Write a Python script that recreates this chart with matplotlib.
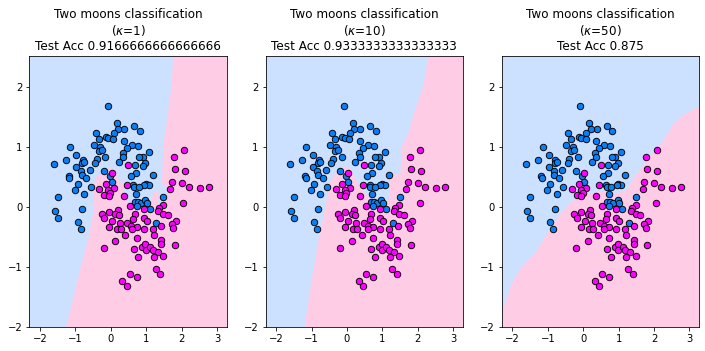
import matplotlib.pyplot as plt
import numpy as np

bg_blue = '#CCE0FF'
bg_pink = '#FFCCE5'
pt_blue = '#0A7FF5'
pt_pink = '#FF00FF'

# class 0 points (blue)
blue_x = [-0.09, 0.17, 0.38, 0.66, 0.82, 0.21, 0.08, -0.42, -0.34, -0.13, -0.07, 0.07, 0.37,
          -1.15, -0.48, -0.30, -0.34, -0.25, 0.60, 0.76, 0.45, 0.34, 1.07, 0.90, 0.80, -0.15,
          0.36, 0.24, -1.27, -0.97, -0.79, -0.81, -0.75, -0.40, -0.44, -1.61, -0.97, 0.69,
          0.97, 0.90, -0.84, -0.60, -0.20, -0.82, -0.69, -1.18, -1.17, 0.71, 0.56, 1.19,
          -0.03, 0.03, -0.93, -0.57, -1.01, 0.64, 0.66, 0.99, 1.08, 0.94, 0.79, 0.72, -0.75,
          -1.50, 1.49, 0.68, 0.76, 0.85, 0.97, 1.02, 0.73, 1.10, -1.58, -1.50, -0.81, -0.93,
          -0.85, 1.29]
blue_y = [1.69, 1.40, 1.31, 1.35, 1.27, 1.30, 1.23, 1.24, 1.13, 1.17, 1.16, 1.14, 1.11,
          1.01, 1.04, 1.01, 0.94, 0.96, 1.04, 1.02, 0.98, 0.91, 0.92, 0.84, 0.84, 0.84,
          0.83, 0.76, 0.79, 0.87, 0.78, 0.73, 0.76, 0.81, 0.73, 0.72, 0.67, 0.71,
          0.73, 0.69, 0.60, 0.62, 0.60, 0.54, 0.48, 0.51, 0.49, 0.57, 0.52, 0.53,
          0.52, 0.42, 0.38, 0.33, 0.28, 0.36, 0.34, 0.38, 0.37, 0.37, 0.33, 0.22, 0.21,
          0.16, 0.16, 0.08, 0.09, 0.07, 0.12, 0.07, 0.02, -0.03, -0.06, -0.19, -0.03, -0.25,
          -0.37, -0.27]

# class 1 points (magenta)
pink_x = [2.07, 1.78, 1.81, 2.09, 0.49, 0.03, 1.72, 2.00, 2.21, 2.51, 2.77, 1.68, 2.05,
          -0.13, 0.45, -0.32, 0.09, -0.07, -0.02, -0.19, -0.05, 0.37, 1.48, 1.37, 0.54,
          0.93, 1.34, 1.48, 1.61, -0.25, -0.05, 0.20, 0.68, -0.19, 0.13, 0.22, 0.04, 0.93,
          1.01, 0.64, 1.84, 1.73, 1.43, 1.77, 0.25, 0.47, 0.58, 0.73, 0.60, -0.06, 0.17,
          0.28, 0.41, 0.93, 1.19, 1.21, 1.42, 1.42, 0.13, 0.73, -0.20, 0.67, 0.89, 0.98,
          0.99, 1.11, 1.19, 1.33, 0.78, 1.22, 1.48, 1.81, 1.27, 1.40, 0.54, 0.73, 0.33, 0.45]
pink_y = [0.95, 0.83, 0.63, 0.61, 0.70, 0.57, 0.41, 0.40, 0.33, 0.31, 0.34, 0.30, 0.06,
          0.38, 0.36, 0.30, 0.31, 0.29, 0.23, 0.20, 0.18, 0.19, 0.03, -0.01, 0.01,
          -0.03, -0.07, -0.11, -0.14, -0.11, -0.08, -0.05, -0.12, -0.18, -0.12, -0.13, -0.23, -0.19,
          -0.23, -0.20, -0.23, -0.28, -0.31, -0.35, -0.27, -0.27, -0.31, -0.34, -0.36, -0.33, -0.37,
          -0.36, -0.46, -0.37, -0.37, -0.46, -0.55, -0.61, -0.56, -0.52, -0.69, -0.70, -0.67, -0.61,
          -0.72, -0.66, -0.71, -0.75, -0.83, -0.83, -0.81, -0.64, -1.03, -1.11, -1.11, -1.16, -1.23, -1.31]

kappas = [1, 10, 50]
accs = ['0.9166666666666666', '0.9333333333333333', '0.875']

xlim = (-2.3, 3.28)
ylim = (-2.0, 2.52)

# pink decision regions (polygon outlines)
region1_x = [-1.26, -1.05, -0.85, -0.62, -0.50, -0.48, -0.44, -0.20, 0.00, 0.15, 0.20, 0.35,
             0.40, 0.55, 1.10, 1.20, 1.35, 1.35, 1.40, 1.60, 1.60, 1.45, 1.47, 1.50, 1.60,
             1.71, 1.78, 3.4, 3.4]
region1_y = [-2.0, -1.5, -1.0, -0.5, -0.1, 0.3, 0.5, 0.6, 0.66, 0.60, 0.45, 0.40,
             0.15, 0.05, -0.05, 0.25, 0.25, 0.0, 0.05, 0.10, 0.30, 0.40, 0.80, 1.10, 1.50,
             2.0, 2.6, 2.6, -2.1]

region2_x = [-1.20, -1.01, -0.87, -0.75, -0.64, -0.54, -0.54, -0.35, -0.16, 0.08, 0.26, 0.50,
             0.78, 0.97, 1.18, 1.21, 1.25, 1.51, 1.54, 1.73, 1.92, 2.15, 2.32, 3.4, 3.4]
region2_y = [-2.0, -1.27, -0.77, -0.38, -0.10, 0.23, 0.34, 0.56, 0.67, 0.67, 0.45, 0.23,
             0.09, 0.03, 0.12, 0.45, 0.53, 0.56, 1.00, 1.23, 1.62, 2.00, 2.6, 2.6, -2.1]

region3_x = [-2.4, -2.34, -2.02, -1.74, -1.35, -1.02, -0.78, -0.40, -0.11, 0.17, 0.55, 0.94,
             1.22, 1.51, 1.89, 2.27, 2.56, 2.84, 3.4, 3.4]
region3_y = [-2.1, -1.83, -1.27, -1.00, -0.77, -0.44, -0.22, 0.06, 0.17, 0.23, 0.26, 0.23,
             0.28, 0.56, 0.84, 1.12, 1.40, 1.54, 1.72, -2.1]

regions = [(region1_x, region1_y), (region2_x, region2_y), (region3_x, region3_y)]

if __name__ == "__main__":
    fig, axes = plt.subplots(1, 3, figsize=(705 / 72, 351 / 72), dpi=72)
    fig.subplots_adjust(left=0.0416, right=0.992, bottom=0.0684, top=0.8405, wspace=0.196)

    for ax, k, acc, (rx, ry) in zip(axes, kappas, accs, regions):
        ax.set_facecolor(bg_blue)
        ax.fill(rx, ry, color=bg_pink, linewidth=0)
        ax.scatter(blue_x, blue_y, s=42, c=pt_blue, edgecolors='k', linewidths=0.9, zorder=3)
        ax.scatter(pink_x, pink_y, s=42, c=pt_pink, edgecolors='k', linewidths=0.9, zorder=3)
        ax.set_xlim(xlim)
        ax.set_ylim(ylim)
        ax.set_xticks([-2, -1, 0, 1, 2, 3])
        ax.set_yticks([-2, -1, 0, 1, 2])
        ax.set_title('Two moons classification\n($\\kappa$=%d)\nTest Acc %s' % (k, acc))

    plt.savefig("out.png", dpi=72)
